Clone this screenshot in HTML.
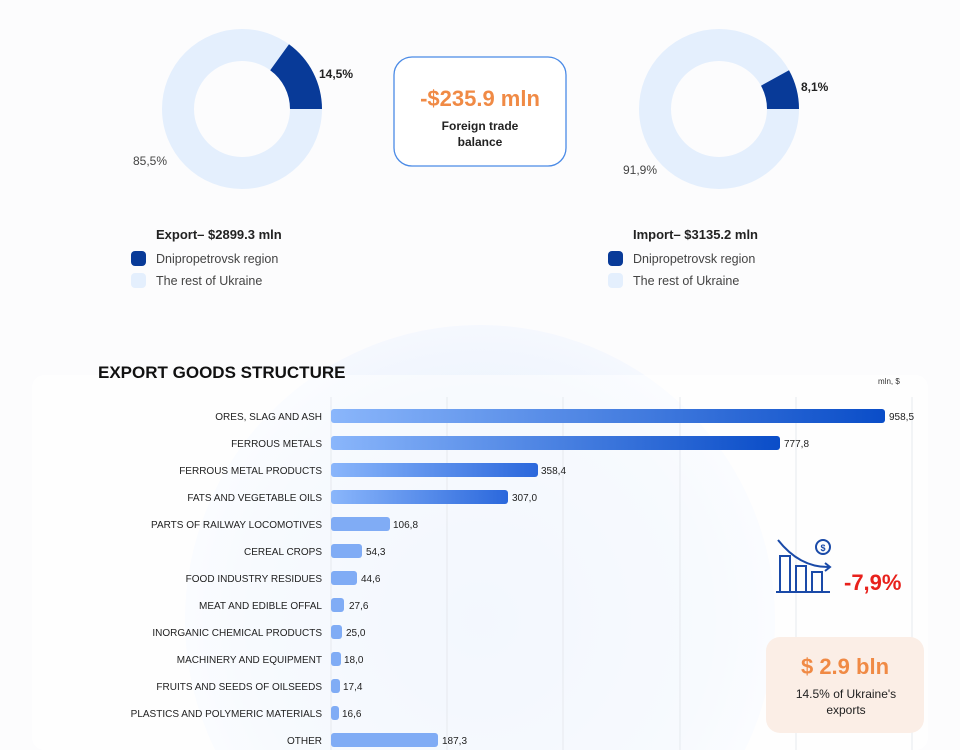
<!DOCTYPE html>
<html><head><meta charset="utf-8"><style>
html,body{margin:0;width:960px;height:750px;overflow:hidden;background:#fff;font-family:"Liberation Sans",sans-serif}
svg{display:block}
</style></head><body>
<svg width="960" height="750" viewBox="0 0 960 750" xmlns="http://www.w3.org/2000/svg" font-family="Liberation Sans, sans-serif">
<defs>
<radialGradient id="blob" cx="0.5" cy="0.5" r="0.5">
<stop offset="0" stop-color="#e6effc"/><stop offset="0.75" stop-color="#eef4fd"/><stop offset="1" stop-color="#f5f8fe"/>
</radialGradient>
<linearGradient id="bar" x1="0" x2="1"><stop offset="0" stop-color="#8ab6fb"/><stop offset="1" stop-color="#0a4dc8"/></linearGradient>
<linearGradient id="bar2" x1="0" x2="1"><stop offset="0" stop-color="#8ab6fb"/><stop offset="1" stop-color="#2b68dc"/></linearGradient>
</defs>
<rect width="960" height="750" fill="#fcfcfd"/>
<circle cx="480" cy="620" r="295" fill="url(#blob)"/>
<rect x="32" y="375" width="896" height="375" rx="12" fill="#ffffff" fill-opacity="0.5"/>
<!-- donut 1 -->
<circle cx="242" cy="109" r="64" fill="none" stroke="#e4effd" stroke-width="32"/>
<path d="M289,44.3 A80,80 0 0 1 322,109 L290,109 A48,48 0 0 0 270.2,70.2 Z" fill="#083a98"/>
<text x="319" y="78" font-size="12" font-weight="bold" fill="#222">14,5%</text>
<text x="133" y="165" font-size="12" fill="#444">85,5%</text>
<!-- donut 2 -->
<circle cx="719" cy="109" r="64" fill="none" stroke="#e4effd" stroke-width="32"/>
<path d="M789,70.2 A80,80 0 0 1 799,109 L767,109 A48,48 0 0 0 761,85.7 Z" fill="#083a98"/>
<text x="801" y="91" font-size="12" font-weight="bold" fill="#222">8,1%</text>
<text x="623" y="174" font-size="12" fill="#444">91,9%</text>
<!-- balance box -->
<rect x="394" y="57" width="172" height="109" rx="18" fill="#fff" stroke="#4a8ae6" stroke-width="1.3"/>
<text x="480" y="106" font-size="22" font-weight="bold" fill="#f08a45" text-anchor="middle">-$235.9 mln</text>
<text x="480" y="130" font-size="12" font-weight="bold" fill="#222" text-anchor="middle">Foreign trade</text>
<text x="480" y="146" font-size="12" font-weight="bold" fill="#222" text-anchor="middle">balance</text>
<!-- legends -->
<text x="156" y="239" font-size="13" font-weight="bold" fill="#222">Export– $2899.3 mln</text>
<rect x="131" y="251" width="15" height="15" rx="4" fill="#083a98"/>
<text x="156" y="263" font-size="12.5" fill="#444">Dnipropetrovsk region</text>
<rect x="131" y="273" width="15" height="15" rx="4" fill="#e4effd"/>
<text x="156" y="285" font-size="12.5" fill="#444">The rest of Ukraine</text>
<text x="633" y="239" font-size="13" font-weight="bold" fill="#222">Import– $3135.2 mln</text>
<rect x="608" y="251" width="15" height="15" rx="4" fill="#083a98"/>
<text x="633" y="263" font-size="12.5" fill="#444">Dnipropetrovsk region</text>
<rect x="608" y="273" width="15" height="15" rx="4" fill="#e4effd"/>
<text x="633" y="285" font-size="12.5" fill="#444">The rest of Ukraine</text>
<!-- chart -->
<text x="98" y="378" font-size="17" font-weight="bold" fill="#111">EXPORT GOODS STRUCTURE</text>
<text x="878" y="384" font-size="8" fill="#333">mln, $</text>
<g stroke="#e6e9ef" stroke-width="1">
<line x1="331" y1="397" x2="331" y2="750"/><line x1="447" y1="397" x2="447" y2="750"/><line x1="563" y1="397" x2="563" y2="750"/><line x1="680" y1="397" x2="680" y2="750"/><line x1="796" y1="397" x2="796" y2="750"/><line x1="912" y1="397" x2="912" y2="750"/>
</g>
<g font-size="10" fill="#222">
<g text-anchor="end">
<text x="322" y="420">ORES, SLAG AND ASH</text>
<text x="322" y="447">FERROUS METALS</text>
<text x="322" y="474">FERROUS METAL PRODUCTS</text>
<text x="322" y="501">FATS AND VEGETABLE OILS</text>
<text x="322" y="528">PARTS OF RAILWAY LOCOMOTIVES</text>
<text x="322" y="555">CEREAL CROPS</text>
<text x="322" y="582">FOOD INDUSTRY RESIDUES</text>
<text x="322" y="609">MEAT AND EDIBLE OFFAL</text>
<text x="322" y="636">INORGANIC CHEMICAL PRODUCTS</text>
<text x="322" y="663">MACHINERY AND EQUIPMENT</text>
<text x="322" y="690">FRUITS AND SEEDS OF OILSEEDS</text>
<text x="322" y="717">PLASTICS AND POLYMERIC MATERIALS</text>
<text x="322" y="744">OTHER</text>
</g>
<rect x="331" y="409" width="554" height="14" rx="3" fill="url(#bar)"/><text x="889" y="420">958,5</text>
<rect x="331" y="436" width="449" height="14" rx="3" fill="url(#bar)"/><text x="784" y="447">777,8</text>
<rect x="331" y="463" width="207" height="14" rx="3" fill="url(#bar2)"/><text x="541" y="474">358,4</text>
<rect x="331" y="490" width="177" height="14" rx="3" fill="url(#bar2)"/><text x="512" y="501">307,0</text>
<rect x="331" y="517" width="59" height="14" rx="3" fill="#80acf5"/><text x="393" y="528">106,8</text>
<rect x="331" y="544" width="31" height="14" rx="3" fill="#80acf5"/><text x="366" y="555">54,3</text>
<rect x="331" y="571" width="26" height="14" rx="3" fill="#80acf5"/><text x="361" y="582">44,6</text>
<rect x="331" y="598" width="13" height="14" rx="3" fill="#80acf5"/><text x="349" y="609">27,6</text>
<rect x="331" y="625" width="11" height="14" rx="3" fill="#80acf5"/><text x="346" y="636">25,0</text>
<rect x="331" y="652" width="10" height="14" rx="3" fill="#80acf5"/><text x="344" y="663">18,0</text>
<rect x="331" y="679" width="9" height="14" rx="3" fill="#80acf5"/><text x="343" y="690">17,4</text>
<rect x="331" y="706" width="8" height="14" rx="3" fill="#80acf5"/><text x="342" y="717">16,6</text>
<rect x="331" y="733" width="107" height="14" rx="3" fill="#80acf5"/><text x="442" y="744">187,3</text>
</g>
<!-- icon -->
<g fill="none" stroke="#1a4aa8" stroke-width="2">
<path d="M780,592 V556 H790 V592 M796,592 V566 H806 V592 M812,592 V572 H822 V592 M776,592 H830"/>
<path d="M778,540 Q800,568 830,567"/><path d="M825,563 L830,567 L825,571"/>
<circle cx="823" cy="547" r="7"/>
</g>
<text x="823" y="551" font-size="9" font-weight="bold" fill="#1a4aa8" text-anchor="middle">$</text>
<text x="844" y="590" font-size="22" font-weight="bold" fill="#e8211c">-7,9%</text>
<!-- bln box -->
<rect x="766" y="637" width="158" height="96" rx="14" fill="#fbeee6"/>
<text x="845" y="674" font-size="22" font-weight="bold" fill="#f08a45" text-anchor="middle">$ 2.9 bln</text>
<text x="846" y="698" font-size="12" fill="#222" text-anchor="middle">14.5% of Ukraine's</text>
<text x="846" y="714" font-size="12" fill="#222" text-anchor="middle">exports</text>
</svg>
</body></html>
